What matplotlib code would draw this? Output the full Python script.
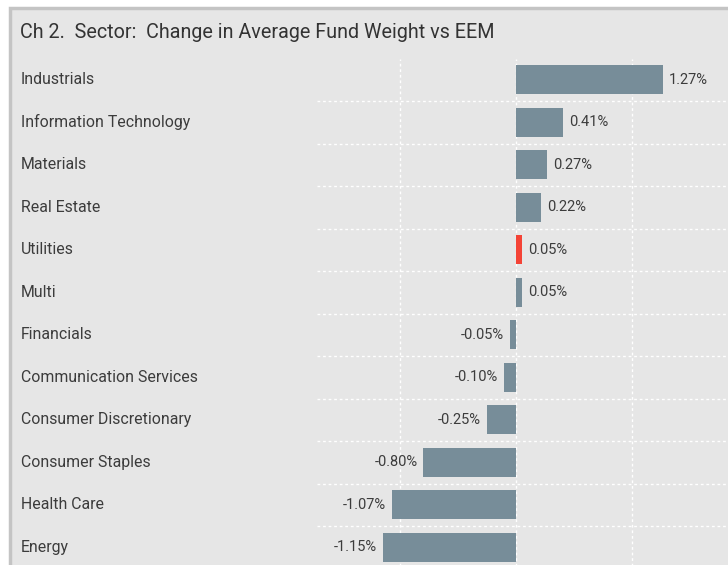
import matplotlib.pyplot as plt
import matplotlib.transforms as mtransforms
from matplotlib.patches import Rectangle

plt.rcParams['font.family'] = ['Roboto', 'DejaVu Sans']

sectors = ["Industrials", "Information Technology", "Materials", "Real Estate",
           "Utilities", "Multi", "Financials", "Communication Services",
           "Consumer Discretionary", "Consumer Staples", "Health Care", "Energy"]
changes = [1.27, 0.41, 0.27, 0.22, 0.05, 0.05, -0.05, -0.10, -0.25, -0.80, -1.07, -1.15]
highlight = "Utilities"

bar_color = '#778d99'
hi_color = '#f44336'
bg = '#e6e6e6'
txt = '#3c3c3c'

fig = plt.figure(figsize=(7.28, 5.65), dpi=100, facecolor='white')

# panel background with border (cut off at right / bottom like the source)
fig.patches.append(Rectangle((10 / 728, -0.05), 1.1, 1 - 8 / 565 + 0.05,
                             transform=fig.transFigure, facecolor=bg,
                             edgecolor='#c4c4c4', linewidth=2.5, zorder=-10))

fig.text(20 / 728, 1 - 33 / 565, "Ch 2.  Sector:  Change in Average Fund Weight vs EEM",
         fontsize=14.2, color='#333333', va='center', ha='left')

ax = fig.add_axes([317 / 728, -3.5 / 565, 488 / 728, 510 / 565])
ax.set_facecolor('none')
ax.set_xlim(-1.72, 2.5)
ax.set_ylim(len(sectors) - 0.5, -0.5)

ypos = list(range(len(sectors)))
colors = [hi_color if s == highlight else bar_color for s in sectors]
ax.barh(ypos, changes, height=0.68, color=colors, zorder=2)

for x in [-1, 0, 1, 2]:
    ax.axvline(x, color='white', linestyle=(0, (2, 2)), linewidth=1, zorder=1)
for i in range(len(sectors) - 1):
    ax.axhline(i + 0.5, color='white', linestyle=(0, (2, 2)), linewidth=1, zorder=1)

lab_tr = mtransforms.blended_transform_factory(fig.transFigure, ax.transData)
for y, s, v in zip(ypos, sectors, changes):
    ax.text(21 / 728, y, s, transform=lab_tr, fontsize=11.4, color=txt,
            va='center', ha='left', clip_on=False)
    off = mtransforms.offset_copy(ax.transData, fig=fig, x=6 if v >= 0 else -6, units='dots')
    ax.text(v, y, f"{v:.2f}%", transform=off, fontsize=10.5, color=txt,
            va='center', ha='left' if v >= 0 else 'right')

for sp in ax.spines.values():
    sp.set_visible(False)
ax.set_xticks([])
ax.set_yticks([])

fig.savefig('out.png', dpi=100)
